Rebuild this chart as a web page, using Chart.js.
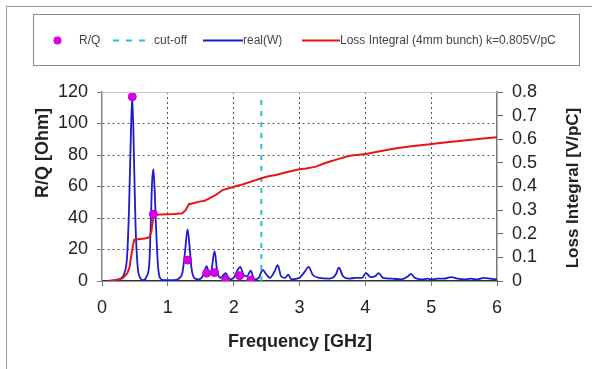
<!DOCTYPE html>
<html>
<head>
<meta charset="utf-8">
<script src="https://cdn.jsdelivr.net/npm/chart.js@4.4.1/dist/chart.umd.min.js"></script>
<style>
  html, body { margin: 0; padding: 0; background: #fff; }
  #wrap { width: 592px; height: 369px; }
</style>
</head>
<body>
<div id="wrap"><canvas id="myChart" width="592" height="369"></canvas></div>
<script>
// R/Q points (GHz, Ohm)
const rqFreq = [0.46, 0.78, 1.30, 1.59, 1.71, 1.88, 2.09, 2.26];
const rqValue = [117, 42.5, 13.3, 5, 5.3, 1, 3.4, 0.6];

// cut-off frequency line
const cutoffFreq = [2.42, 2.42];
const cutoffValue = [0, 118];

// real(W) impedance curve (GHz, Ohm)
const realFreq = [0.05, 0.2, 0.3, 0.34, 0.38, 0.41, 0.44, 0.46, 0.49, 0.51, 0.54, 0.58, 0.63, 0.68, 0.72, 0.74, 0.76, 0.78, 0.80, 0.82, 0.85, 0.88, 0.94,
  1.0, 1.1, 1.18, 1.22, 1.26, 1.30, 1.33, 1.36, 1.40, 1.47, 1.53, 1.59, 1.63, 1.66, 1.71, 1.75, 1.80, 1.85, 1.88, 1.93,
  2.0, 2.06, 2.10, 2.15, 2.2, 2.26, 2.31, 2.38, 2.44, 2.5, 2.55, 2.62, 2.67, 2.72, 2.78, 2.83, 2.88,
  3.0, 3.08, 3.14, 3.2, 3.3, 3.45, 3.55, 3.60, 3.66, 3.75, 3.85, 3.95,
  4.01, 4.08, 4.15, 4.2, 4.27, 4.4, 4.55, 4.65, 4.69, 4.75, 4.85, 4.95,
  5.0, 5.1, 5.2, 5.3, 5.4, 5.5, 5.6, 5.7, 5.8, 5.9, 6.0];
const realValue = [0, 0.5, 2, 5, 15, 45, 95, 117, 70, 35, 10, 2, 0.5, 3, 12, 35, 62, 71, 58, 35, 10, 2, 0.5,
  0.5, 0.5, 2, 5, 18, 33, 22, 8, 2, 1, 3, 9.5, 4, 6, 19, 6, 2, 4, 5, 1,
  2, 7, 9, 4, 3, 6.5, 1, 2, 7, 4, 2, 6, 10, 3, 2, 4, 1,
  2, 6, 9, 4, 2, 1.5, 4, 8.5, 3, 1.5, 2, 2,
  5, 2.5, 3, 5, 2, 1.5, 1, 3, 4.5, 2, 1, 1.5,
  1, 1.5, 1.5, 2.5, 1.5, 1, 1.5, 1, 2, 1.5, 1];

// Loss integral (GHz, V/pC)
const lossFreq = [0.1, 0.2, 0.31, 0.385, 0.42, 0.44, 0.47, 0.49, 0.55, 0.65, 0.72, 0.75, 0.77, 0.79, 0.9, 1.0, 1.1, 1.22, 1.27, 1.32,
  1.4, 1.48, 1.56, 1.63, 1.73, 1.83, 1.98, 2.1, 2.19, 2.3, 2.42, 2.53, 2.64, 2.8, 3.0, 3.1, 3.25, 3.35, 3.45, 3.6,
  3.76, 3.9, 4.01, 4.2, 4.47, 4.7, 4.98, 5.2, 5.5, 5.75, 6.0];
const lossValue = [0, 0.003, 0.011, 0.033, 0.06, 0.1, 0.15, 0.175, 0.177, 0.18, 0.185, 0.21, 0.25, 0.28, 0.282, 0.283, 0.284, 0.287, 0.3, 0.325,
  0.33, 0.336, 0.34, 0.35, 0.364, 0.385, 0.397, 0.406, 0.414, 0.424, 0.435, 0.443, 0.449, 0.46, 0.473, 0.476, 0.484, 0.495, 0.505, 0.517,
  0.53, 0.534, 0.538, 0.548, 0.562, 0.57, 0.579, 0.586, 0.595, 0.602, 0.609];

const xTicks = [0, 1, 2, 3, 4, 5, 6];

const pairs = (xs, ys) => xs.map((x, i) => ({ x: x, y: ys[i] }));

// frame, legend box and axis titles drawn on the canvas
const decor = {
  id: 'decor',
  beforeDraw(chart) {
    const ctx = chart.ctx;
    ctx.save();
    ctx.strokeStyle = '#9a9a9a';
    ctx.lineWidth = 1;
    ctx.strokeRect(6.5, 6.5, 700, 500);
    ctx.restore();
  },
  afterDatasetsDraw(chart) {
    const ctx = chart.ctx;
    const area = chart.chartArea;
    ctx.save();
    // top edge of plot area
    ctx.strokeStyle = '#c8c8c8';
    ctx.lineWidth = 1;
    ctx.beginPath();
    ctx.moveTo(area.left, area.top + 0.5);
    ctx.lineTo(area.right, area.top + 0.5);
    ctx.stroke();

    // legend box
    ctx.strokeStyle = '#8a8a8a';
    ctx.strokeRect(33.5, 14.5, 546, 51);
    const ds = chart.data.datasets;
    const y = 40.5;
    ctx.font = '12px "Liberation Sans", Arial, sans-serif';
    ctx.fillStyle = '#444';
    ctx.textBaseline = 'middle';
    // R/Q
    ctx.beginPath();
    ctx.arc(57.5, y, 4, 0, Math.PI * 2);
    ctx.fillStyle = ds[0].backgroundColor;
    ctx.fill();
    ctx.fillStyle = '#444';
    ctx.fillText(ds[0].label, 79, y);
    // cut-off
    ctx.strokeStyle = ds[1].borderColor;
    ctx.lineWidth = 2;
    ctx.setLineDash([6, 7]);
    ctx.beginPath();
    ctx.moveTo(113, y);
    ctx.lineTo(147, y);
    ctx.stroke();
    ctx.setLineDash([]);
    ctx.fillText(ds[1].label, 154, y);
    // real(W)
    ctx.strokeStyle = ds[2].borderColor;
    ctx.beginPath();
    ctx.moveTo(203, y);
    ctx.lineTo(243, y);
    ctx.stroke();
    ctx.fillText(ds[2].label, 243, y);
    // loss integral
    ctx.strokeStyle = ds[3].borderColor;
    ctx.beginPath();
    ctx.moveTo(302, y);
    ctx.lineTo(340, y);
    ctx.stroke();
    ctx.fillText(ds[3].label, 340, y);

    // axis titles
    ctx.fillStyle = '#222';
    ctx.font = 'bold 18px "Liberation Sans", Arial, sans-serif';
    ctx.textAlign = 'center';
    ctx.fillText('Frequency [GHz]', 300, 342);
    ctx.save();
    ctx.translate(43, 153);
    ctx.rotate(-Math.PI / 2);
    ctx.fillText('R/Q [Ohm]', 0, 0);
    ctx.restore();
    ctx.save();
    ctx.font = 'bold 17px "Liberation Sans", Arial, sans-serif';
    ctx.translate(573, 188);
    ctx.rotate(-Math.PI / 2);
    ctx.fillText('Loss Integral [V/pC]', 0, 0);
    ctx.restore();
    ctx.restore();
  }
};

const tickFont = { family: '"Liberation Sans", Arial, sans-serif', size: 18 };
const dotted = [2, 3];

var context = document.getElementById('myChart').getContext('2d');

var myChart = new Chart(context, {
  type: 'line',
  data: {
    datasets: [
      {
        label: 'R/Q',
        data: pairs(rqFreq, rqValue),
        showLine: false,
        pointRadius: 4,
        pointBackgroundColor: '#d800e6',
        pointBorderColor: '#c000d0',
        backgroundColor: '#d800e6',
        borderColor: '#d800e6',
        yAxisID: 'y',
        order: 0
      },
      {
        label: 'cut-off',
        data: pairs(cutoffFreq, cutoffValue),
        borderColor: '#20c4d4',
        borderWidth: 2,
        borderDash: [5, 6],
        pointRadius: 0,
        yAxisID: 'y',
        order: 2
      },
      {
        label: 'real(W)',
        data: pairs(realFreq, realValue),
        borderColor: '#1c1ccc',
        borderWidth: 1.8,
        pointRadius: 0,
        cubicInterpolationMode: 'monotone',
        yAxisID: 'y',
        order: 3
      },
      {
        label: 'Loss Integral (4mm bunch) k=0.805V/pC',
        data: pairs(lossFreq, lossValue),
        borderColor: '#e41616',
        borderWidth: 2,
        pointRadius: 0,
        yAxisID: 'y2',
        order: 1
      }
    ]
  },
  options: {
    responsive: false,
    animation: false,
    layout: { padding: { top: 92, left: 0, right: 0, bottom: 0 } },
    plugins: { legend: { display: false }, tooltip: { enabled: false } },
    scales: {
      x: {
        type: 'linear',
        min: 0,
        max: 6,
        afterBuildTicks: (scale) => { scale.ticks = xTicks.map(v => ({ value: v })); },
        afterFit: (scale) => { scale.height = 88; },
        grid: {
          color: (c) => (c.tick && (c.tick.value === 0 || c.tick.value === 6)) ? 'rgba(0,0,0,0)' : '#555',
          lineWidth: 1,
          tickColor: '#777',
          tickLength: 5,
          tickBorderDash: []
        },
        border: { display: true, color: '#333', width: 1.5, dash: dotted },
        ticks: { color: '#222', font: tickFont, padding: 11, maxRotation: 0, autoSkip: false }
      },
      y: {
        position: 'left',
        min: 0,
        max: 120,
        afterFit: (scale) => { scale.width = 102; },
        grid: {
          color: (c) => (c.tick && (c.tick.value === 0 || c.tick.value === 120)) ? 'rgba(0,0,0,0)' : '#555',
          lineWidth: 1,
          tickColor: '#777',
          tickLength: 5,
          tickBorderDash: []
        },
        border: { display: true, color: '#888', width: 1.5, dash: dotted },
        ticks: { stepSize: 20, color: '#222', font: tickFont, padding: 9, autoSkip: false }
      },
      y2: {
        position: 'right',
        min: 0,
        max: 0.8,
        afterFit: (scale) => { scale.width = 95; },
        grid: { drawOnChartArea: false, tickColor: '#666', tickLength: 6 },
        border: { display: true, color: '#777', width: 1.5 },
        ticks: { stepSize: 0.1, color: '#222', font: tickFont, padding: 9, autoSkip: false }
      }
    }
  },
  plugins: [decor]
});
</script>
</body>
</html>
